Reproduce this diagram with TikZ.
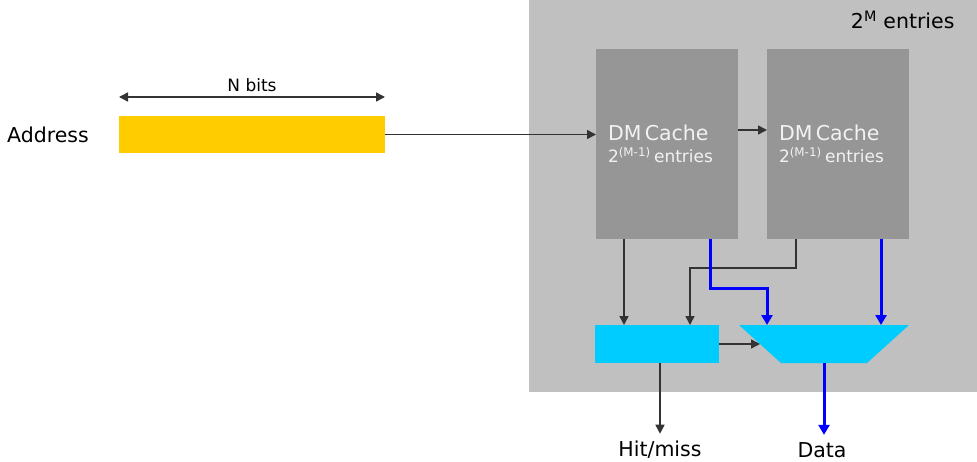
\documentclass[tikz,border=0pt]{standalone}
\usepackage{fontspec}
\setmainfont{DejaVu Sans}
\usetikzlibrary{arrows.meta}

\definecolor{panelgray}{HTML}{C0C0C0}
\definecolor{cachegray}{HTML}{969696}
\definecolor{addryellow}{HTML}{FFCC00}
\definecolor{logiccyan}{HTML}{00CCFF}
\definecolor{wiregray}{HTML}{333333}
\definecolor{datablue}{HTML}{0000FF}

\tikzset{
    block/.style={inner sep=0pt, outer sep=0pt, minimum width=#1},
    cachebox/.style={block=142, minimum height=190, fill=cachegray,
        text=white!95!black, text width=118, align=left, inner xsep=12pt},
    wire/.style={->, draw=wiregray, line width=1.5pt},
    datawire/.style={->, draw=datablue, line width=3pt,
        >={Triangle[length=10pt,width=11pt]}},
}

\newcommand{\bigtxt}{\fontsize{20.5}{24}\selectfont}
\newcommand{\smalltxt}{\fontsize{17}{20}\selectfont}

\begin{document}
\begin{tikzpicture}[x=1pt, y=-1pt, >={Triangle[length=9pt,width=9pt]}]
    \useasboundingbox (0,0) rectangle (977,461);

    % outer set-associative block
    \node[block=448, minimum height=392, fill=panelgray, anchor=north west] (panel) at (529,0) {};
    \node[anchor=east] (size) at (958,20) {\bigtxt 2\textsuperscript{M} entries};

    % the two direct-mapped halves
    \node[cachebox] (c1) at (667,144) {\bigtxt DM Cache\\[5pt] \smalltxt 2\textsuperscript{(M-1)} entries};
    \node[cachebox] (c2) at (838,144) {\bigtxt DM Cache\\[5pt] \smalltxt 2\textsuperscript{(M-1)} entries};

    % address
    \node (addrlbl) at (48,135) {\bigtxt Address};
    \node[block=266, minimum height=37, fill=addryellow] (addr) at (252,134.5) {};
    \draw[<->, wiregray, line width=1.5pt] ([yshift=19]addr.north west) -- node[above, text=black, yshift=1pt] (nbits) {\smalltxt N bits} ([yshift=19]addr.north east);

    % hit logic and data mux
    \node[block=124, minimum height=38, fill=logiccyan] (hm) at (657,344) {};
    \fill[logiccyan] (739,325) -- (909,325) -- (867,363) -- (781,363) -- cycle;
    \coordinate (muxtop) at (824,325);
    \coordinate (muxin) at (760,344);
    \coordinate (muxout) at (824,363);

    \node (hmlbl) at (660,450) {\bigtxt Hit/miss};
    \node (datalbl) at (822,450) {\bigtxt Data};

    % connections
    \draw[wire] (addr.east) -- (addr.east -| c1.west);
    \draw[wire] ([yshift=14]c1.east) -- ([yshift=14]c2.west);

    \draw[wire] ([xshift=28]c1.south west) -- ([xshift=28]c1.south west |- hm.north);
    \draw[wire] ([xshift=29]c2.south west) -- ++(0,29) -| ([xshift=95]hm.north west);
    \draw[datawire] ([xshift=-28]c1.south east) -- ++(0,49) -| ([xshift=-57]muxtop);
    \draw[datawire] ([xshift=-28]c2.south east) -- ([xshift=57]muxtop);

    \draw[wire] (hm.east) -- (muxin);
    \draw[wire] (hmlbl.north |- hm.south) -- ([yshift=4]hmlbl.north);
    \draw[datawire] (muxout) -- ([yshift=4]muxout |- datalbl.north);
\end{tikzpicture}
\end{document}
